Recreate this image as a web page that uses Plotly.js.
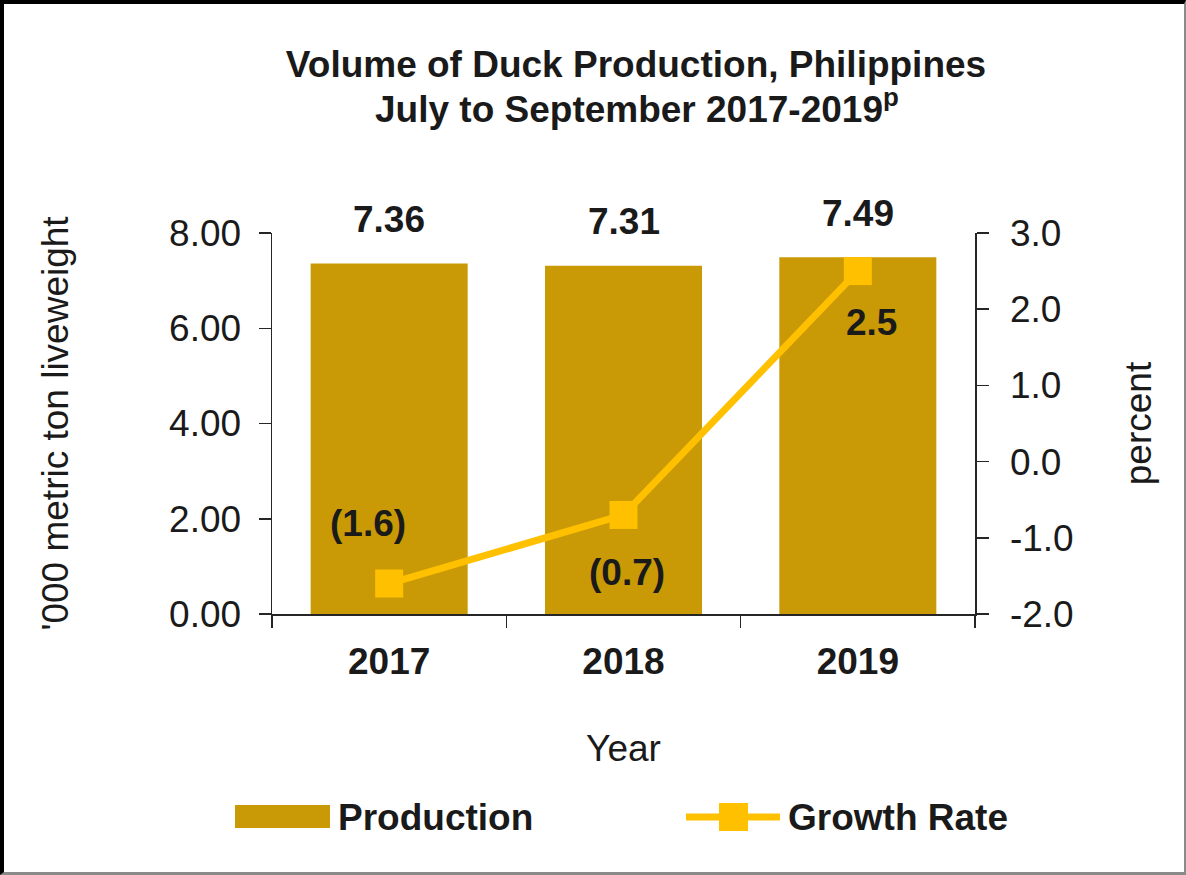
<!DOCTYPE html>
<html>
<head>
<meta charset="utf-8">
<script src="https://cdn.plot.ly/plotly-3.0.1.min.js"></script>
<style>
  html, body { margin: 0; padding: 0; background: #fff; }
  #wrap { position: relative; width: 1186px; height: 875px; }
  #chart { width: 1186px; height: 875px; }
  #frame { position: absolute; left: 0; top: 0; width: 1186px; height: 875px; box-sizing: border-box;
           border-top: 4px solid #000; border-left: 4px solid #000;
           border-right: 2px solid #8a8a8a; border-bottom: 3px solid #8a8a8a; pointer-events: none; }
</style>
</head>
<body>
<div id="wrap">
  <div id="chart"></div>
  <div id="frame"></div>
</div>
<script>
// ---- data ----
const years = ["2017", "2018", "2019"];
const production = [7.36, 7.31, 7.49];          // '000 metric ton liveweight
const growthRate = [-1.6, -0.7, 2.5];           // percent
const productionLabels = ["7.36", "7.31", "7.49"];
const growthLabels = ["(1.6)", "(0.7)", "2.5"];
const leftTickVals = [0, 2, 4, 6, 8];
const leftTickText = ["0.00", "2.00", "4.00", "6.00", "8.00"];
const rightTickVals = [-2, -1, 0, 1, 2, 3];
const rightTickText = ["-2.0", "-1.0", "0.0", "1.0", "2.0", "3.0"];

// ---- styles ----
const FONT = "Liberation Sans, Arial, sans-serif";
const BAR = "#C99A06";
const LINE = "#FFC000";
const TXT = "#1a1a1a";
const growthShift = [[-21, 60], [3, -58], [14, -51]]; // label offsets (px) from point

// plot area in pixels
const L = 272, R = 975, T = 233, B = 614;
const W = 1186, H = 875;
const px = v => (v - L) / (R - L);
const py = v => (B - v) / (B - T);

const traces = [
  {
    type: "bar", x: years, y: production, name: "Production",
    marker: { color: BAR }, width: 0.67, showlegend: false
  },
  {
    type: "scatter", mode: "lines+markers", x: years, y: growthRate, yaxis: "y2",
    name: "Growth Rate", line: { color: LINE, width: 7 },
    marker: { symbol: "square", size: 28, color: LINE }, showlegend: false
  }
];

const annotations = [];
years.forEach((yr, i) => {
  annotations.push({
    x: i, y: production[i], xref: "x", yref: "y", text: "<b>" + productionLabels[i] + "</b>",
    showarrow: false, yanchor: "middle", yshift: 44,
    font: { family: FONT, size: 37, color: TXT }
  });
  annotations.push({
    x: i, y: growthRate[i], xref: "x", yref: "y2", text: "<b>" + growthLabels[i] + "</b>",
    showarrow: false, yanchor: "middle", xshift: growthShift[i][0], yshift: growthShift[i][1],
    font: { family: FONT, size: 37, color: TXT }
  });
});
// title line 2
annotations.push({
  xref: "paper", yref: "paper", x: px(637), y: py(106), xanchor: "center", yanchor: "middle",
  text: "<b>July to September 2017-2019<sup>p</sup></b>", showarrow: false,
  font: { family: FONT, size: 37, color: TXT }
});
// legend texts
annotations.push({
  xref: "paper", yref: "paper", x: px(336), y: py(817), xanchor: "left", yanchor: "middle",
  text: "<b>Production</b>", showarrow: false, font: { family: FONT, size: 37, color: TXT }
});
annotations.push({
  xref: "paper", yref: "paper", x: px(786), y: py(817), xanchor: "left", yanchor: "middle",
  text: "<b>Growth Rate</b>", showarrow: false, font: { family: FONT, size: 37, color: TXT }
});

const shapes = [
  { type: "rect", xref: "paper", yref: "paper", x0: px(235), x1: px(330), y0: py(828), y1: py(805),
    fillcolor: BAR, line: { width: 0 } },
  { type: "line", xref: "paper", yref: "paper", x0: px(686), x1: px(780), y0: py(817), y1: py(817),
    line: { color: LINE, width: 7 } },
  { type: "rect", xref: "paper", yref: "paper", x0: px(719), x1: px(748), y0: py(831), y1: py(803),
    fillcolor: LINE, line: { width: 0 } }
];

const layout = {
  width: W, height: H,
  margin: { l: L, r: W - R, t: T, b: H - B, pad: 0 },
  paper_bgcolor: "#fff", plot_bgcolor: "#fff",
  font: { family: FONT, size: 37, color: TXT },
  title: {
    text: "<b>Volume of Duck Production, Philippines</b>",
    font: { family: FONT, size: 37, color: TXT },
    xref: "paper", x: px(636), xanchor: "center",
    yref: "container", y: 1 - 64 / H, yanchor: "middle"
  },
  xaxis: {
    type: "category", categoryorder: "array", categoryarray: years, range: [-0.5, 2.5],
    showline: true, linecolor: "#262626", linewidth: 1.5,
    ticks: "outside", tickson: "boundaries", ticklen: 12, tickcolor: "#262626", tickwidth: 1.5,
    tickangle: 0, ticklabelstandoff: 14,
    tickfont: { family: FONT, size: 37, color: TXT, weight: "bold" },
    showgrid: false, zeroline: false, fixedrange: true, automargin: false,
    title: { text: "Year", font: { family: FONT, size: 37, color: TXT }, standoff: 54 }
  },
  yaxis: {
    range: [0, 8], tickvals: leftTickVals, ticktext: leftTickText,
    showline: true, linecolor: "#262626", linewidth: 1.5,
    ticks: "outside", ticklen: 12, tickcolor: "#262626", tickwidth: 1.5, ticklabelstandoff: 10,
    tickfont: { family: FONT, size: 37, color: TXT },
    showgrid: false, zeroline: false, fixedrange: true, automargin: false,
    title: { text: "'000 metric ton liveweight", font: { family: FONT, size: 37, color: TXT }, standoff: 89 }
  },
  yaxis2: {
    overlaying: "y", side: "right", range: [-2, 3], tickvals: rightTickVals, ticktext: rightTickText,
    showline: true, linecolor: "#262626", linewidth: 1.5,
    ticks: "outside", ticklen: 12, tickcolor: "#262626", tickwidth: 1.5, ticklabelstandoff: 14,
    tickfont: { family: FONT, size: 37, color: TXT },
    showgrid: false, zeroline: false, fixedrange: true, automargin: false,
    title: { text: "percent", font: { family: FONT, size: 37, color: TXT }, standoff: 52 }
  },
  annotations: annotations,
  shapes: shapes,
  showlegend: false
};

Plotly.newPlot("chart", traces, layout, { displayModeBar: false, staticPlot: true });
</script>
</body>
</html>
